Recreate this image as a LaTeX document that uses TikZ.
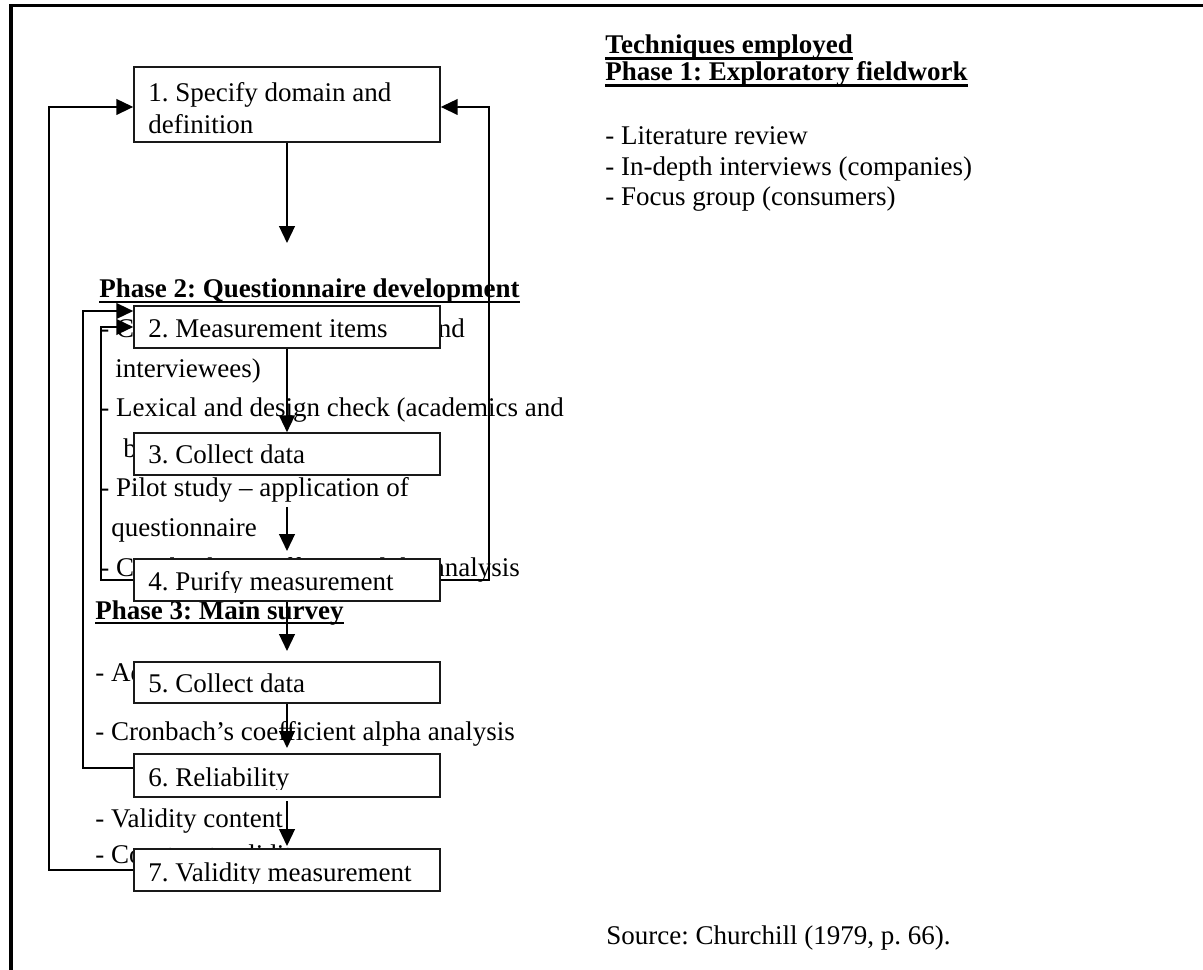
\documentclass[tikz,border=0pt]{standalone}
\usepackage{fontspec}
\setmainfont{Liberation Serif}
\usetikzlibrary{arrows.meta,fit}
\frenchspacing

\begin{document}
\begin{tikzpicture}[x=0.4444pt,y=-0.4444pt,
  txt/.style={inner sep=0pt, anchor=base west, font=\fontsize{12}{14}\selectfont},
  hdr/.style={txt, font=\fontsize{12}{14}\selectfont\bfseries},
  uline/.style={line width=1.2pt},
  stepbox/.style={draw=black!90, line width=0.7pt, fill=white, inner sep=0pt},
  flow/.style={draw, line width=0.75pt, -{Triangle[length=7.5pt,width=7pt]}},
  frame/.style={line width=1.6pt}
]
\useasboundingbox (0,0) rectangle (1203,970);

% page frame
\draw[frame] (11,970) -- (11,5.5) -- (1203,5.5);

% ---- right column: techniques and source ----
\node[hdr] (tech) at (605,54) {Techniques employed};
\draw[uline] ([yshift=-2pt]tech.base west) -- ([yshift=-2pt]tech.base east);
\node[hdr] (p1h) at (605,81) {Phase 1: Exploratory fieldwork};
\draw[uline] ([yshift=-2pt]p1h.base west) -- ([yshift=-2pt]p1h.base east);
\node[txt] (r1) at (605,145) {- Literature review};
\node[txt] (r2) at (605,176) {- In-depth interviews (companies)};
\node[txt] (r3) at (605,206) {- Focus group (consumers)};
\node[txt] (src) at (606,944) {Source: Churchill (1979, p. 66).};

% ---- phase 2 list ----
\node[hdr] (p2h) at (99,298) {Phase 2: Questionnaire development};
\draw[uline] ([yshift=-1.8pt]p2h.base west) -- ([yshift=-1.8pt]p2h.base east);
\node[txt] (l21) at (100,338) {- Content validity (academics and};
\node[txt] (l22) at (115,378) {interviewees)};
\node[txt] (l23) at (100,417) {- Lexical and design check (academics and};
\node[txt] (l24) at (123,458) {business people in the sector)};
\node[txt] (l25) at (100,497) {- Pilot study \textendash{} application of};
\node[txt] (l26) at (111,537) {questionnaire};
\node[txt] (l27) at (100,577) {- Cronbach's coefficient alpha analysis};

% ---- phase 3 list ----
\node[hdr] (p3h) at (95,619) {Phase 3: Main survey};
\draw[uline] ([yshift=-1.8pt]p3h.base west) -- ([yshift=-1.8pt]p3h.base east);
\node[txt] (l31) at (95,682) {- Administration of the survey};
\node[txt] (l32) at (95,740) {- Cronbach's coefficient alpha analysis};
\node[txt] (l33) at (95,827) {- Validity content};
\node[txt] (l34) at (95,863) {- Construct validity};

% ---- step boxes ----
\node[stepbox, fit={(134,67) (440,142)}] (b1) {};
\node[stepbox, fit={(134,306) (440,348)}] (b2) {};
\node[stepbox, fit={(134,433) (440,475)}] (b3) {};
\node[stepbox, fit={(134,559) (440,601)}] (b4) {};
\node[stepbox, fit={(134,662) (440,703)}] (b5) {};
\node[stepbox, fit={(134,754) (440,797)}] (b6) {};
\node[stepbox, fit={(134,849) (440,891)}] (b7) {};

% box labels, clipped to the inner text area of each box
\begin{scope}
  \clip (135,68) rectangle (439,138);
  \node[txt] (t1a) at (148,102) {1. Specify domain and};
  \node[txt] (t1b) at (148,134) {definition};
\end{scope}
\begin{scope}
  \clip (135,307) rectangle (439,340);
  \node[txt] (t2) at (148,338) {2. Measurement items};
\end{scope}
\begin{scope}
  \clip (135,434) rectangle (439,467);
  \node[txt] (t3) at (148,464) {3. Collect data};
\end{scope}
\begin{scope}
  \clip (135,560) rectangle (439,593);
  \node[txt] (t4) at (148,591) {4. Purify measurement};
\end{scope}
\begin{scope}
  \clip (135,663) rectangle (439,695);
  \node[txt] (t5) at (148,693) {5. Collect data};
\end{scope}
\begin{scope}
  \clip (135,755) rectangle (439,789);
  \node[txt] (t6) at (148,786) {6. Reliability};
\end{scope}
\begin{scope}
  \clip (135,850) rectangle (439,883);
  \node[txt] (t7) at (148,881) {7. Validity measurement};
\end{scope}

% ---- forward arrows ----
\coordinate (a1e) at (287,243);
\coordinate (a3s) at (287,507);
\coordinate (a3e) at (287,551);
\coordinate (a4e) at (287,651);
\coordinate (a5e) at (287,748);
\coordinate (a6s) at (287,801);
\coordinate (a6e) at (287,846);
\draw[flow] (b1.south) -- (a1e);
\draw[flow] (b2.south) -- (b3.north);
\draw[flow] (a3s) -- (a3e);
\draw[flow] (b4.south) -- (a4e);
\draw[flow] (b5.south) -- (a5e);
\draw[flow] (a6s) -- (a6e);

% ---- feedback loops ----
\coordinate (lp1) at (49,107);
\coordinate (lp2) at (83,311);
\coordinate (lp3) at (101,327);
\coordinate (rp) at (489,107);
\draw[flow] (b7.west) -| (lp1) -- ([yshift=-1.1pt]b1.west);
\draw[flow] ([yshift=3.3pt]b6.west) -| (lp2) -- ([yshift=7.1pt]b2.west);
\draw[flow] (b4.west) -| (lp3) -- (b2.west);
\draw[flow] (b4.east) -| (rp) -- ([yshift=-1.1pt]b1.east);
\end{tikzpicture}
\end{document}
